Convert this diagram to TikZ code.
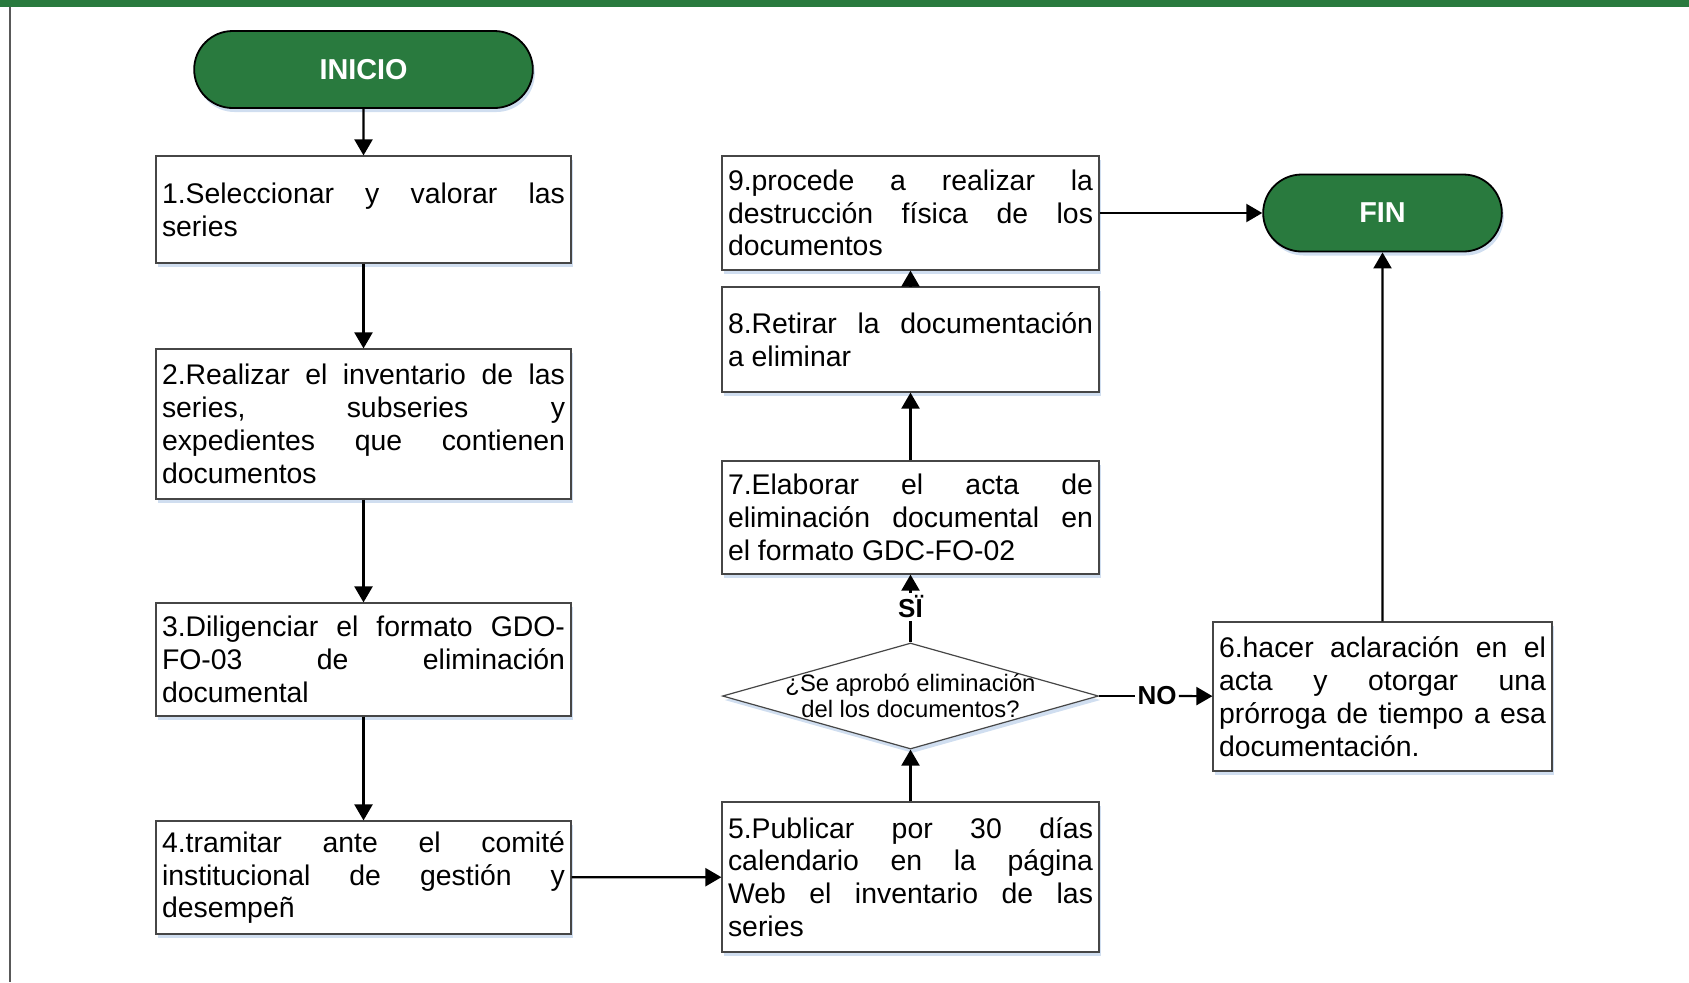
\documentclass[tikz,border=0pt]{standalone}
\usepackage{fontspec}
\setmainfont{Liberation Sans}
\usepackage{xcolor}
\usepackage{tikz}
\usetikzlibrary{arrows.meta, shapes.geometric, shapes.misc, shadows}
\definecolor{verde}{RGB}{41,122,62}
\definecolor{borde}{RGB}{70,70,70}
\definecolor{sombra}{RGB}{196,214,236}
\hbadness=10000
\tolerance=10000

\begin{document}
\begin{tikzpicture}[x=0.5pt, y=-0.5pt,
  paso/.style={rectangle, draw=borde, line width=0.6pt, fill=white, align=justify,
    inner xsep=3pt, inner ysep=0pt, font=\fontsize{14.2}{16.4}\selectfont,
    drop shadow={shadow xshift=1pt, shadow yshift=-2pt, fill=sombra, opacity=0.8}},
  pasoizq/.style={paso, text width=201.5pt},
  pasoder/.style={paso, text width=182.5pt},
  terminal/.style={rounded rectangle, draw=black, line width=0.9pt, fill=verde, text=white,
    font=\fontsize{14.4}{16.4}\selectfont\bfseries, minimum height=38.5pt,
    drop shadow={shadow xshift=1pt, shadow yshift=-2pt, fill=sombra, opacity=0.8}},
  decision/.style={diamond, draw=borde, line width=0.6pt, fill=white, inner sep=0pt,
    minimum width=188pt, minimum height=53pt,
    drop shadow={shadow xshift=1pt, shadow yshift=-2pt, fill=sombra, opacity=0.8}},
  pregunta/.style={align=center, inner sep=0pt, font=\fontsize{11.9}{13}\selectfont},
  flecha/.style={line width=1.1pt, -{Triangle[length=8pt, width=9pt]}},
  etiqueta/.style={font=\fontsize{13}{14}\selectfont\bfseries, inner sep=1pt}
]
  \useasboundingbox (0,0) rectangle (1689,982);
  % page frame: green band on top, grey rule on the left
  \fill[verde] (0,0) rectangle (1689,6.5);
  \draw[black!65, line width=1.2pt] (10,6.5) -- (10,982);

  % start and end
  \node[terminal, minimum width=176pt] (inicio) at (363.5,69.5) {INICIO};
  \node[terminal, minimum width=126pt] (fin) at (1382.5,213) {FIN};

  % left column, steps 1-4
  \node[pasoizq, minimum height=53.5pt] (p1) at (363.5,209.5)
    {1.Seleccionar y valorar las\linebreak series};
  \node[pasoizq, minimum height=75pt] (p2) at (363.5,424)
    {2.Realizar el inventario de las\linebreak series, subseries y\linebreak expedientes que contienen\linebreak documentos};
  \node[pasoizq, minimum height=56.5pt] (p3) at (363.5,659.5)
    {3.Diligenciar el formato GDO-\linebreak FO-03 de eliminación\linebreak documental};
  \node[pasoizq, minimum height=56.5pt] (p4) at (363.5,877.5)
    {4.tramitar ante el comité\linebreak institucional de gestión y\linebreak desempeñ};

  % middle column, steps 5-9
  \node[pasoder, minimum height=75pt] (p5) at (910.5,877)
    {5.Publicar por 30 días\linebreak calendario en la página\linebreak Web el inventario de las\linebreak series};
  \node[decision] (dec) at (910.5,696) {};
  \node[pregunta] (dectxt) at (dec.center) {¿Se aprobó eliminación\\del los documentos?};
  \node[pasoder, minimum height=56.5pt] (p7) at (910.5,517.5)
    {7.Elaborar el acta de\linebreak eliminación documental en\linebreak el formato GDC-FO-02};
  \node[pasoder, minimum height=52.5pt] (p8) at (910.5,339.5)
    {8.Retirar la documentación\linebreak a eliminar};
  \node[pasoder, minimum height=57pt] (p9) at (910.5,213)
    {9.procede a realizar la\linebreak destrucción física de los\linebreak documentos};

  % right column, step 6
  \node[paso, text width=163.5pt, minimum height=74.5pt] (p6) at (1382.5,696.5)
    {6.hacer aclaración en el\linebreak acta y otorgar una\linebreak prórroga de tiempo a esa\linebreak documentación.};

  % decision labels
  \node[etiqueta] (si) at (910.5,607) {SÏ};
  \node[etiqueta] (no) at (1157,696) {NO};

  % connectors
  \draw[flecha] (inicio) -- (p1);
  \draw[flecha] (p1) -- (p2);
  \draw[flecha] (p2) -- (p3);
  \draw[flecha] (p3) -- (p4);
  \draw[flecha] (p4) -- (p5);
  \draw[flecha] (p5) -- (dec);
  \draw[line width=1.1pt] (dec) -- (si);
  \draw[flecha] (si) -- (p7);
  \draw[flecha] (p7) -- (p8);
  \draw[flecha] (p8) -- (p9);
  \draw[flecha] (p9) -- (fin);
  \draw[line width=1.1pt] (dec) -- (no);
  \draw[flecha] (no) -- (p6);
  \draw[flecha] (p6) -- (fin);
\end{tikzpicture}
\end{document}
